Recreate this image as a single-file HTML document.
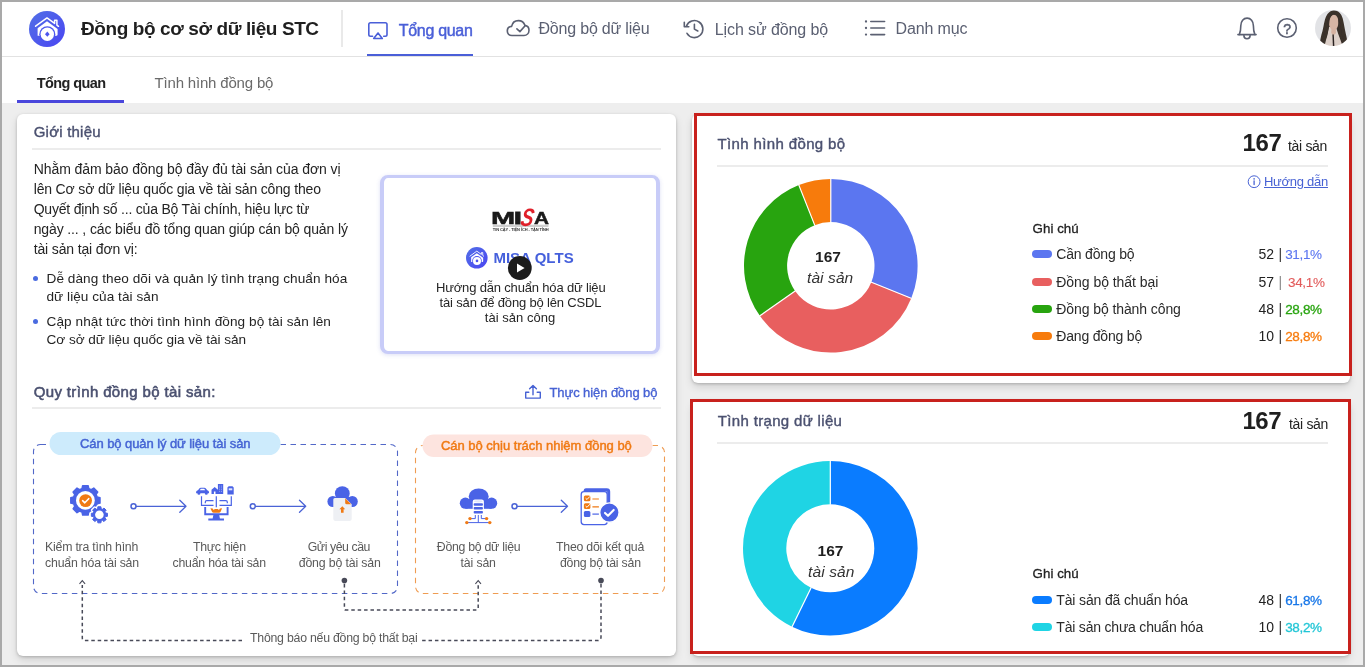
<!DOCTYPE html>
<html lang="vi">
<head>
<meta charset="utf-8">
<title>Đồng bộ cơ sở dữ liệu STC</title>
<style>
*{box-sizing:border-box;margin:0;padding:0}
html,body{width:1365px;height:667px;overflow:hidden;background:#eeeeee}
body{font-family:"Liberation Sans",sans-serif;position:relative}
#app{position:absolute;left:0;top:0;width:1365px;height:667px;overflow:hidden;background:#eeeeee}
.abs,.t,svg.i{position:absolute}
.t{white-space:nowrap;line-height:1;display:block}
.card{position:absolute;background:#fff;border-radius:6px;box-shadow:0 1px 3px rgba(0,0,0,.2),0 4px 8px rgba(0,0,0,.12)}
.hr{position:absolute;height:2px;background:#ececec}
.red{position:absolute;border:3px solid #c8211d;z-index:5}
#frame{position:absolute;left:0;top:0;width:1365px;height:667px;border:2px solid #a9a9a9;z-index:10;pointer-events:none}
ul{list-style:none}
h1,h2,h3{font:inherit}
a{text-decoration:none}
</style>
</head>
<body>
<div id="app">

<header class="abs" style="left:0;top:0;width:1365px;height:57px;background:#fff;border-bottom:1px solid #e2e2e2">
  <svg class="i" style="left:29px;top:11px" width="36" height="36" viewBox="0 0 36 36">
<defs><linearGradient id="lg" x1="0" y1="0" x2="1" y2="1"><stop offset="0" stop-color="#5270e6"/><stop offset="1" stop-color="#4a45f2"/></linearGradient></defs>
<circle cx="18" cy="18" r="18" fill="url(#lg)"/>
<path d="M6.6 15.2L18 6.9L25.6 12.4V9.3h2.3v4.8l1.6 1.2" stroke="#fff" stroke-width="1.5" fill="none" stroke-linejoin="round" stroke-linecap="round"/>
<path d="M8.6 17.2L18 10.3l10.6 7.6v5.3c0 1-.7 1.6-1.6 1.6H8.6z" fill="#fff"/>
<circle cx="18.3" cy="23.2" r="8" fill="#4b55ee"/>
<circle cx="18.3" cy="23.2" r="6.7" fill="#fff"/>
<path d="M18.3 20.6l2.3 2.6-2.3 2.6-2.3-2.6z" fill="#4b55ee"/>
</svg>
  <h1><span class="t" style="left:81.00px;top:19.00px;font-size:19px;color:#1f1f1f;font-weight:700;letter-spacing:-0.399px;">Đồng bộ cơ sở dữ liệu STC</span></h1>
  <div class="abs" style="left:341px;top:10px;width:2px;height:37px;background:#e9e9e9"></div>
  <nav>
    <svg class="i" style="left:360px;top:14px" width="540" height="30" viewBox="360 14 540 30" fill="none" >
<g stroke="#4a5fd8" stroke-width="1.6" stroke-linecap="round" stroke-linejoin="round">
<path d="M372.6 36.2h-2.1q-1.7 0-1.7-1.7v-10q0-1.7 1.7-1.7h14.8q1.7 0 1.7 1.7v10q0 1.7-1.7 1.7h-1.6"/>
<path d="M378 33l4.3 5.5h-8.6z"/>
</g>
<g stroke="#5b6072" stroke-width="1.6" stroke-linecap="round" stroke-linejoin="round">
<path d="M511.9 35.5c-3 0-4.6-2.2-4.6-4.5 0-2.5 1.9-4.4 4.3-4.6.7-3.4 3.4-5.8 6.8-5.8 3.1 0 5.6 2 6.6 4.8 2.5.4 4 2.5 4 4.9 0 2.9-2.2 5.2-5 5.2z"/>
<path d="M516.9 28.8l3 2.8 5.2-5.9"/>
<path d="M686.400 26.100A8.500 8.500 0 1 1 687 33.300"/>
<path d="M684.300 22.300v4.500h4.500"/>
<path d="M694.400 24.300v4.800l3.400 1.900"/>
<path d="M870.800 21.500h13.800M870.800 28h13.800M870.800 34.600h13.800"/>
</g>
<g fill="#5b6072"><circle cx="866" cy="21.5" r="1.15"/><circle cx="866" cy="28" r="1.15"/><circle cx="866" cy="34.6" r="1.15"/></g>
</svg>
    <a class="t" style="left:398.80px;top:23.00px;font-size:16px;color:#4a5fd8;-webkit-text-stroke:0.45px #4a5fd8;letter-spacing:-0.313px;">Tổng quan</a>
    <div class="abs" style="left:367px;top:54px;width:106px;height:2px;background:#4a5fd8"></div>
    <a class="t" style="left:538.50px;top:21.00px;font-size:16px;color:#5b6072;letter-spacing:-0.200px;">Đồng bộ dữ liệu</a>
    <a class="t" style="left:714.80px;top:22.00px;font-size:16px;color:#5b6072;letter-spacing:-0.106px;">Lịch sử đồng bộ</a>
    <a class="t" style="left:895.60px;top:21.00px;font-size:16px;color:#5b6072;letter-spacing:-0.153px;">Danh mục</a>
  </nav>
  <svg class="i" style="left:1230px;top:8px" width="125" height="42" viewBox="1230 8 125 42" fill="none" >
<defs><clipPath id="av"><circle cx="1333" cy="28" r="18"/></clipPath><filter id="avb" x="-10%" y="-10%" width="120%" height="120%"><feGaussianBlur stdDeviation=".45"/></filter></defs>
<g stroke="#5b6072" stroke-width="1.6" stroke-linecap="round" stroke-linejoin="round">
<path d="M1237.9 34.6h18.2"/>
<path d="M1239.400 34.400c1-2.400 1.400-5 1.400-8.600 0-4.400 2.700-7.700 6.300-7.700s6.300 3.300 6.300 7.700c0 3.600.4 6.200 1.400 8.600"/>
<path d="M1243.900 35.600a3.100 3.100 0 0 0 6.200 0"/>
<circle cx="1287" cy="28" r="9.300"/>
</g>
<g clip-path="url(#av)" filter="url(#avb)">
<rect x="1313" y="8" width="40" height="40" fill="#e2e3e6"/>
<path d="M1319.500 46c.5-6 1.500-10 3-15 1.500-6 2-13 5-17 2-2.600 4-3.600 6.500-3.600 3 0 5.500 1.400 7.300 4.600 2.200 4 2.600 10 3.700 15 1 5 2.500 9 2.500 16z" fill="#3a302a"/>
<path d="M1329 27c-1 5-1.500 9-3 13l-1.500 6h18l-2-6c-1.500-4-3-8-4.500-13z" fill="#ddd0c9"/>
<path d="M1328.800 22.500c0-4.500 1.900-7.700 4.900-7.700s4.700 3.200 4.700 7.700c0 4-2 7.500-4.700 7.500s-4.900-3.500-4.900-7.500z" fill="#d7b5a4"/>
<path d="M1331.500 28.500h4.200l.3 4.500-2.400 2.500-2.400-2.500z" fill="#d5b2a1"/>
<path d="M1328 25c-.4-5 .3-8.500 2-10.500 1.200-1 2.800-1.300 4.500-.8-2.800 1.300-4.600 3.300-5 7.300-.4 5-1.500 13-4.500 19.500l-4.500 4.500c1.500-6 4.100-13 7.500-20z" fill="#3a302a"/>
<path d="M1338.200 18c1.800 3 2.300 6 2.600 10 .4 5 1.700 10 4 15l-3-1c-2-5-2.800-10-3.100-14-.2-3-.2-7-.5-10z" fill="#3a302a"/>
<path d="M1332.400 34.500l.5 12h1.500l-.6-12z" fill="#2b2320"/>
</g>
</svg><span class="t" style="left:1283.20px;top:22.00px;font-size:14px;color:#5b6072;-webkit-text-stroke:0.5px #5b6072;letter-spacing:0.203px;">?</span>
</header>

<div class="abs" style="left:0;top:57px;width:1365px;height:46px;background:#fff"></div>
<div>
  <a class="t" style="left:36.80px;top:76.00px;font-size:14.5px;color:#222;font-weight:700;letter-spacing:-0.588px;">Tổng quan</a>
  <a class="t" style="left:154.50px;top:75.00px;font-size:15px;color:#6a6a6a;letter-spacing:-0.180px;">Tình hình đồng bộ</a>
  <div class="abs" style="left:17px;top:100px;width:107px;height:3px;background:#4a47dc"></div>
</div>

<main>

<section>
<div class="card" style="left:17px;top:114px;width:659px;height:542px"></div>
<h2><span class="t" style="left:33.70px;top:124.00px;font-size:15px;color:#4b5170;-webkit-text-stroke:0.4px #4b5170;letter-spacing:0.222px;">Giới thiệu</span></h2>
<div class="hr" style="left:32px;top:148px;width:629px"></div>
<p>
<span class="t" style="left:33.70px;top:162.00px;font-size:14px;color:#242424;letter-spacing:-0.076px;">Nhằm đảm bảo đồng bộ đầy đủ tài sản của đơn vị</span>
<span class="t" style="left:33.70px;top:182.00px;font-size:14px;color:#242424;letter-spacing:-0.161px;">lên Cơ sở dữ liệu quốc gia về tài sản công theo</span>
<span class="t" style="left:33.70px;top:202.00px;font-size:14px;color:#242424;letter-spacing:-0.209px;">Quyết định số ... của Bộ Tài chính, hiệu lực từ</span>
<span class="t" style="left:33.70px;top:222.00px;font-size:14px;color:#242424;letter-spacing:-0.127px;">ngày ... , các biểu đồ tổng quan giúp cán bộ quản lý</span>
<span class="t" style="left:33.70px;top:242.00px;font-size:14px;color:#242424;letter-spacing:-0.140px;">tài sản tại đơn vị:</span>
</p>
<ul>
<li><i class="abs" style="left:33px;top:276px;width:5px;height:5px;border-radius:50%;background:#4a6be0"></i>
<span class="t" style="left:46.50px;top:272.00px;font-size:13.6px;color:#242424;letter-spacing:0.063px;">Dễ dàng theo dõi và quản lý tình trạng chuẩn hóa</span>
<span class="t" style="left:46.50px;top:290.00px;font-size:13.6px;color:#242424;letter-spacing:0.046px;">dữ liệu của tài sản</span></li>
<li><i class="abs" style="left:33px;top:319px;width:5px;height:5px;border-radius:50%;background:#4a6be0"></i>
<span class="t" style="left:46.50px;top:315.00px;font-size:13.6px;color:#242424;letter-spacing:0.074px;">Cập nhật tức thời tình hình đồng bộ tài sản lên</span>
<span class="t" style="left:46.50px;top:333.00px;font-size:13.6px;color:#242424;letter-spacing:-0.037px;">Cơ sở dữ liệu quốc gia về tài sản</span></li>
</ul>

<div class="abs" style="left:380px;top:175px;width:280px;height:179px;border:4px solid #c8ccf8;border-width:3.6px 4px;border-radius:8px;background:#fff;box-shadow:0 1px 4px rgba(80,90,200,.18)"></div><svg class="i" style="left:460px;top:205px" width="120" height="80" viewBox="460 205 120 80" fill="none" >
<rect x="492.800" y="224.700" width="55.700" height="2.300" fill="#cfcfcf"/>
<defs><linearGradient id="lg2" x1="0" y1="0" x2="1" y2="1"><stop offset="0" stop-color="#5270e6"/><stop offset="1" stop-color="#4a45f2"/></linearGradient></defs>
<g transform="translate(466 247) scale(.6)">
<circle cx="18" cy="18" r="18" fill="url(#lg2)"/>
<path d="M6.600 15.200L18 6.900L25.600 12.400V9.300h2.300v4.800l1.600 1.200" stroke="#fff" stroke-width="1.500" fill="none" stroke-linejoin="round" stroke-linecap="round"/>
<path d="M8.600 17.200L18 10.300l10.600 7.600v5.300c0 1-.7 1.600-1.600 1.600H8.600z" fill="#fff"/>
<circle cx="18.300" cy="23.200" r="8" fill="#4b55ee"/>
<circle cx="18.300" cy="23.200" r="6.700" fill="#fff"/>
<circle cx="18.300" cy="23.200" r="2.200" fill="#4b55ee"/>
</g>
</svg><span class="t" style="left:490.50px;top:210.00px;font-size:17.3px;color:#1a1a1a;font-weight:700;-webkit-text-stroke:0.5px #1a1a1a;letter-spacing:-0.011px;transform:scaleX(1.68);transform-origin:0 0;">M</span><span class="t" style="left:513.60px;top:210.00px;font-size:17.3px;color:#1a1a1a;font-weight:700;-webkit-text-stroke:0.9px #1a1a1a;letter-spacing:-0.020px;transform:scaleX(1.6);transform-origin:0 0;">I</span><span class="t" style="left:519.40px;top:205.00px;font-size:25px;color:#e0202a;font-weight:700;font-style:italic;letter-spacing:-1.091px;transform:skewX(-10deg) scaleX(0.76);transform-origin:0 100%;">S</span><span class="t" style="left:533.90px;top:210.00px;font-size:17.3px;color:#1a1a1a;font-weight:700;-webkit-text-stroke:0.5px #1a1a1a;letter-spacing:0.019px;transform:scaleX(1.2);transform-origin:0 0;">A</span><span class="t" style="left:492.80px;top:228.00px;font-size:4px;color:#333;font-weight:700;letter-spacing:-0.107px;">TIN CẬY - TIỆN ÍCH - TẬN TÌNH</span><span class="t" style="left:493.40px;top:250.00px;font-size:15px;color:#4560dc;font-weight:700;letter-spacing:0.033px;">MISA QLTS</span><svg class="i" style="left:506px;top:254px" width="28" height="28" viewBox="506 254 28 28" fill="none" style="z-index:3"><circle cx="519.800" cy="268" r="11.900" fill="#1c1c1c"/><path d="M517 263.400l7.600 4.600-7.600 4.600z" fill="#fff"/></svg><span class="t" style="left:436.00px;top:281.00px;font-size:13px;color:#262626;letter-spacing:-0.171px;">Hướng dẫn chuẩn hóa dữ liệu</span><span class="t" style="left:439.60px;top:296.00px;font-size:13px;color:#262626;letter-spacing:-0.164px;">tài sản để đồng bộ lên CSDL</span><span class="t" style="left:484.80px;top:311.00px;font-size:13px;color:#262626;letter-spacing:0.024px;">tài sản công</span>

<h2><span class="t" style="left:33.70px;top:384.00px;font-size:15px;color:#4b5170;-webkit-text-stroke:0.55px #4b5170;letter-spacing:0.361px;">Quy trình đồng bộ tài sản:</span></h2>
<svg class="i" style="left:523px;top:383px" width="20" height="18" viewBox="523 383 20 18" fill="none" ><g stroke="#4762d4" stroke-width="1.400" stroke-linecap="round" stroke-linejoin="round"><path d="M528.800 392.300h-3.100v5.800h14.600v-5.800h-3.100"/><path d="M533 394.800v-9.200M529.600 388.800l3.400-3.400 3.400 3.400"/></g></svg>
<a class="t" style="left:549.50px;top:386.00px;font-size:13px;color:#4762d4;-webkit-text-stroke:0.35px #4762d4;letter-spacing:-0.075px;">Thực hiện đồng bộ</a>
<div class="hr" style="left:32px;top:407px;width:629px"></div>

<svg class="i" style="left:25px;top:425px" width="650" height="228" viewBox="25 425 650 228" fill="none" >
<rect x="33.500" y="444.500" width="364" height="149" rx="7" stroke="#5268c8" stroke-width="1.100" stroke-dasharray="5.500 4.500"/>
<rect x="415.500" y="445.500" width="249" height="148" rx="7" stroke="#ef9c52" stroke-width="1.100" stroke-dasharray="5.500 4.500"/>
<rect x="49.500" y="432" width="231" height="23" rx="11.500" fill="#cdebfc"/>
<rect x="422.500" y="434.500" width="230" height="22.500" rx="11.250" fill="#fde4df"/>

<!-- icon 1: gears -->
<path d="M97.21 496.97L100.04 497.61L100.04 503.19L97.21 503.83L96.18 506.33L97.72 508.78L93.78 512.72L91.33 511.18L88.83 512.21L88.19 515.04L82.61 515.04L81.97 512.21L79.47 511.18L77.02 512.72L73.08 508.78L74.62 506.33L73.59 503.83L70.76 503.19L70.76 497.61L73.59 496.97L74.62 494.47L73.08 492.02L77.02 488.08L79.47 489.62L81.97 488.59L82.61 485.76L88.19 485.76L88.83 488.59L91.33 489.62L93.78 488.08L97.72 492.02L96.18 494.47Z" fill="#4a63e6" stroke="#4a63e6" stroke-width="1.400" stroke-linejoin="round"/>
<circle cx="85.400" cy="500.400" r="9.400" fill="#fff"/>
<circle cx="85.600" cy="500.600" r="6.400" fill="#f07a14"/>
<path d="M82.600 500.700l2.200 2.100 3.900-4.100" stroke="#fff" stroke-width="1.600" stroke-linecap="round" stroke-linejoin="round"/>
<path d="M105.45 513.04L107.45 513.26L107.45 516.34L105.45 516.56L104.92 517.84L106.18 519.41L104.01 521.58L102.44 520.32L101.16 520.85L100.94 522.85L97.86 522.85L97.64 520.85L96.36 520.32L94.79 521.58L92.62 519.41L93.88 517.84L93.35 516.56L91.35 516.34L91.35 513.26L93.35 513.04L93.88 511.76L92.62 510.19L94.79 508.02L96.36 509.28L97.64 508.75L97.86 506.75L100.94 506.75L101.16 508.75L102.44 509.28L104.01 508.02L106.18 510.19L104.92 511.76Z" fill="#fff" stroke="#fff" stroke-width="3.400" stroke-linejoin="round"/>
<path d="M105.45 513.04L107.45 513.26L107.45 516.34L105.45 516.56L104.92 517.84L106.18 519.41L104.01 521.58L102.44 520.32L101.16 520.85L100.94 522.85L97.86 522.85L97.64 520.85L96.36 520.32L94.79 521.58L92.62 519.41L93.88 517.84L93.35 516.56L91.35 516.34L91.35 513.26L93.35 513.04L93.88 511.76L92.62 510.19L94.79 508.02L96.36 509.28L97.64 508.75L97.86 506.75L100.94 506.75L101.16 508.75L102.44 509.28L104.01 508.02L106.18 510.19L104.92 511.76Z" fill="#4a63e6" stroke="#4a63e6" stroke-width="1" stroke-linejoin="round"/>
<circle cx="99.400" cy="514.800" r="4.300" fill="#fff"/>

<path d="M133.5 506.3H186 M179.8 500.3L186 506.3L179.8 512.3" stroke="#4a63d6" stroke-width="1.300" fill="none" stroke-linecap="round" stroke-linejoin="round"/><circle cx="133.5" cy="506.3" r="2.500" fill="#fff" stroke="#4a63d6" stroke-width="1.500"/><path d="M252.8 506.3H305.7 M299.5 500.3L305.7 506.3L299.5 512.3" stroke="#4a63d6" stroke-width="1.300" fill="none" stroke-linecap="round" stroke-linejoin="round"/><circle cx="252.8" cy="506.3" r="2.500" fill="#fff" stroke="#4a63d6" stroke-width="1.500"/><path d="M514.5 506.3H567.5 M561.3 500.3L567.5 506.3L561.3 512.3" stroke="#4a63d6" stroke-width="1.300" fill="none" stroke-linecap="round" stroke-linejoin="round"/><circle cx="514.5" cy="506.3" r="2.500" fill="#fff" stroke="#4a63d6" stroke-width="1.500"/>

<!-- icon 2: monitor with assets -->
<g fill="#4a63e6">
<path d="M196.100 492.400c0-1.200.8-1.900 1.900-2.100l1.300-1.800c.4-.6.900-.8 1.600-.8h3.400c.7 0 1.200.2 1.600.8l1.300 1.800c1.100.2 1.800.9 1.800 2.100v.8h-1.200a1.500 1.500 0 0 1-3 0h-4.400a1.500 1.500 0 0 1-3 0h-1.300z"/>
<path d="M211.500 494.100v-4.400l3.200-2.800 3.200 2.800v4.400zM217.900 484h5.300v10.100h-5.300z"/>
<path d="M227.400 487.500l1.300-1.300h3.800l1.200 1.300v6.900h-6.300z"/>
<path d="M208.300 518.600h15.700v1.900h-15.700zM213.400 515h5.800l.8 3.700h-7.400z"/>
</g>
<path d="M199.800 490.300l1-1.500h3.400l1 1.500z" fill="#fff"/>
<path d="M213.900 494.100v-2.600h1.600v2.600z" fill="#fff"/>
<path d="M219.600 485.600v7M221.500 485.600v7" stroke="#9fb0f5" stroke-width=".8" stroke-dasharray="1 .8"/>
<path d="M228.700 488.300h3.600v2h-3.600z" fill="#dfe5fb"/>
<g stroke="#4a63e6" stroke-width="1.200" fill="none">
<path d="M201.500 496.300v9h12M231.300 496.300v9h-11.800M216.300 496.300v11"/>
<path d="M205.300 503.300v-1.300q0-1.400 1.400-1.400h6.800M227.300 503.300v-1.300q0-1.400-1.400-1.400h-6.400"/>
<path d="M205.200 507v7.300h22.400v-7.300" stroke-width="1.900"/>
</g>
<path d="M210.400 508.200l2.300.4.900 1.300 1.300-.9h2.800l1.300.9.900-1.300 2.200-.4-1.500 3.600q-.5 1-1.600 1h-5.400q-1.100 0-1.600-1z" fill="#f07a14"/>

<!-- icon 3: cloud upload -->
<g fill="#4a63e6"><circle cx="342.300" cy="493.600" r="7.400"/><circle cx="332.900" cy="501.500" r="5.500"/><circle cx="352.300" cy="501.500" r="5.500"/><rect x="332.900" y="497" width="19.400" height="10"/></g>
<path d="M334.800 497.900h10.400l6.500 6.400v14.800q0 1.800-1.800 1.800h-14.800q-1.800 0-1.800-1.800v-19.700q0-1.500 1.500-1.500z" fill="#eef0f4"/>
<path d="M345.200 498.300l6 6h-4.400q-1.600 0-1.600-1.600z" fill="#f07a14"/>
<path d="M342.300 506.300l2.900 3h-1.600v3.400h-2.600v-3.400h-1.600z" fill="#f07a14"/>

<!-- icon 4: cloud database -->
<g fill="#4a63e6"><ellipse cx="478.700" cy="496.400" rx="10" ry="7.900"/><circle cx="465.400" cy="503.200" r="5.600"/><circle cx="491.600" cy="503.200" r="5.600"/><rect x="465.400" y="499" width="26.200" height="9.800"/></g>
<rect x="472.700" y="499.600" width="11.200" height="15.600" rx="2.200" fill="#fff"/>
<g fill="#4a63e6">
<rect x="473.700" y="503.200" width="9.200" height="2.500" rx=".8"/>
<rect x="473.700" y="507.100" width="9.200" height="2.500" rx=".8"/>
<rect x="473.700" y="511" width="9.200" height="2.500" rx=".8"/>
</g>
<ellipse cx="478.300" cy="501.300" rx="4.300" ry="1.100" fill="#dfe5fb"/>
<g stroke="#4a63e6" stroke-width="1" fill="none">
<path d="M478.300 515v7.600M475.300 515v3.600h-5M481.300 515v3.600h5M467.500 522.600h21.600"/>
</g>
<g fill="#f07a14"><circle cx="470" cy="518.600" r="1.700"/><circle cx="466.800" cy="522.600" r="1.700"/><circle cx="486.600" cy="518.600" r="1.700"/><circle cx="489.800" cy="522.600" r="1.700"/></g>

<!-- icon 5: checklist -->
<path d="M586 488.200h20.800q3.400 0 3.400 3.400v26h-3v-26h-23.800q.4-3.400 2.600-3.400z" fill="#4a63e6"/>
<rect x="581.200" y="491.600" width="26" height="33" rx="2.800" fill="#fff" stroke="#4a63e6" stroke-width="1.300"/>
<rect x="583.900" y="495.500" width="6.500" height="5.800" rx="1.500" fill="#f07a14"/>
<rect x="583.900" y="503.300" width="6.500" height="5.800" rx="1.500" fill="#f07a14"/>
<rect x="583.900" y="511.100" width="6.500" height="5.800" rx="1.500" fill="#4a63e6"/>
<path d="M585.600 498.200l1.400 1.300 2.900-3.100M585.600 506l1.400 1.300 2.900-3.100" stroke="#fff" stroke-width="1" fill="none"/>
<path d="M592.400 499h6.500M592.400 506.900h6.500" stroke="#f07a14" stroke-width="1.200"/>
<path d="M592.400 514.100h6.500" stroke="#4a63e6" stroke-width="1.200"/>
<circle cx="609.400" cy="512.600" r="9.700" fill="#4a63e6" stroke="#fff" stroke-width="1.400"/>
<path d="M605 512.900l3 2.900 5.700-5.900" stroke="#fff" stroke-width="2.100" stroke-linecap="round" stroke-linejoin="round"/>

<!-- dotted connectors -->
<g stroke="#484a58" stroke-width="1.500" stroke-dasharray="3.500 2.900" fill="none">
<path d="M344.400 584v24.500q0 1.500 1.500 1.500h130.800q1.500 0 1.500-1.500v-23.500"/>
<path d="M601 584v53q0 3.500-3.500 3.500h-175.500"/>
<path d="M242 640.500h-157.200q-2.500 0-2.500-2.500v-53"/>
</g>
<circle cx="344.400" cy="580.600" r="2.800" fill="#484a58"/>
<circle cx="601" cy="580.600" r="2.800" fill="#484a58"/>
<path d="M79.500 583.800l2.800-3.200 2.800 3.200M475.400 583.800l2.800-3.200 2.800 3.200" stroke="#484a58" stroke-width="1.100" fill="none"/>
</svg><span class="t" style="left:80.00px;top:437.00px;font-size:13px;color:#4564d4;-webkit-text-stroke:0.45px #4564d4;letter-spacing:-0.076px;">Cán bộ quản lý dữ liệu tài sản</span><span class="t" style="left:441.00px;top:439.00px;font-size:13px;color:#f07a14;-webkit-text-stroke:0.45px #f07a14;letter-spacing:-0.023px;">Cán bộ chịu trách nhiệm đồng bộ</span><span class="t" style="left:45.10px;top:541.00px;font-size:12.3px;color:#5a5a5a;letter-spacing:-0.226px;">Kiểm tra tình hình</span><span class="t" style="left:45.10px;top:557.00px;font-size:12.3px;color:#5a5a5a;letter-spacing:-0.194px;">chuẩn hóa tài sản</span><span class="t" style="left:193.00px;top:541.00px;font-size:12.3px;color:#5a5a5a;letter-spacing:-0.301px;">Thực hiện</span><span class="t" style="left:172.60px;top:557.00px;font-size:12.3px;color:#5a5a5a;letter-spacing:-0.229px;">chuẩn hóa tài sản</span><span class="t" style="left:307.70px;top:541.00px;font-size:12.3px;color:#5a5a5a;letter-spacing:-0.429px;">Gửi yêu cầu</span><span class="t" style="left:298.70px;top:557.00px;font-size:12.3px;color:#5a5a5a;letter-spacing:-0.141px;">đồng bộ tài sản</span><span class="t" style="left:436.80px;top:541.00px;font-size:12.3px;color:#5a5a5a;letter-spacing:-0.270px;">Đồng bộ dữ liệu</span><span class="t" style="left:460.60px;top:557.00px;font-size:12.3px;color:#5a5a5a;letter-spacing:-0.148px;">tài sản</span><span class="t" style="left:556.00px;top:541.00px;font-size:12.3px;color:#5a5a5a;letter-spacing:-0.226px;">Theo dõi kết quả</span><span class="t" style="left:559.90px;top:557.00px;font-size:12.3px;color:#5a5a5a;letter-spacing:-0.214px;">đồng bộ tài sản</span><span class="t" style="left:250.00px;top:632.00px;font-size:12.3px;color:#5a5a5a;letter-spacing:-0.229px;">Thông báo nếu đồng bộ thất bại</span>
</section>

<section>
<div class="card" style="left:692px;top:114px;width:658px;height:269px"></div>
<div class="red" style="left:694px;top:113px;width:658px;height:263px"></div>
<h2><span class="t" style="left:717.50px;top:136.00px;font-size:15px;color:#4b5170;-webkit-text-stroke:0.4px #4b5170;letter-spacing:0.367px;">Tình hình đồng bộ</span></h2>
<span class="t" style="left:1242.50px;top:131.00px;font-size:24px;color:#1f1f1f;font-weight:700;letter-spacing:-0.349px;">167</span><span class="t" style="left:1288.00px;top:139.00px;font-size:14px;color:#222;letter-spacing:-0.321px;">tài sản</span>
<div class="hr" style="left:717px;top:165px;width:611px"></div>
<svg class="i" style="left:1246px;top:174px" width="16" height="16" viewBox="1246 174 16 16" fill="none" ><circle cx="1254.1" cy="181.700" r="5.900" stroke="#4762d4" stroke-width="1"/><path d="M1254.1 180.800v3.800" stroke="#4762d4" stroke-width="1.300" stroke-linecap="round"/><circle cx="1254.1" cy="178.900" r=".8" fill="#4762d4"/></svg>
<a class="t" style="left:1264.00px;top:175.00px;font-size:13px;color:#4762d4;letter-spacing:-0.266px;text-decoration:underline;">Hướng dẫn</a>
<svg class="i" style="left:741.8px;top:177px" width="177.6" height="177.6" viewBox="741.8 177 177.6 177.6"><path d="M830.60 179.00A86.8 86.8 0 0 1 911.08 298.32L871.12 282.17A43.7 43.7 0 0 0 830.60 222.10Z" fill="#5b76f0"/><path d="M911.08 298.32A86.8 86.8 0 0 1 759.67 315.83L794.89 290.99A43.7 43.7 0 0 0 871.12 282.17Z" fill="#e85f5f"/><path d="M759.67 315.83A86.8 86.8 0 0 1 798.65 185.10L814.51 225.17A43.7 43.7 0 0 0 794.89 290.99Z" fill="#28a40f"/><path d="M798.65 185.10A86.8 86.8 0 0 1 830.60 179.00L830.60 222.10A43.7 43.7 0 0 0 814.51 225.17Z" fill="#f77b0c"/><path d="M830.60 178.50L830.60 222.60" stroke="#fff" stroke-width="1.2"/><path d="M911.54 298.50L870.65 281.98" stroke="#fff" stroke-width="1.2"/><path d="M759.26 316.12L795.30 290.70" stroke="#fff" stroke-width="1.2"/><path d="M798.46 184.63L814.70 225.63" stroke="#fff" stroke-width="1.2"/></svg>
<span class="t" style="left:815.00px;top:249.00px;font-size:15.5px;color:#1f1f1f;font-weight:700;letter-spacing:0.042px;">167</span><span class="t" style="left:807.00px;top:270.00px;font-size:15.5px;color:#333;font-style:italic;letter-spacing:0.090px;">tài sản</span>
<h3><span class="t" style="left:1032.60px;top:222.00px;font-size:13.3px;color:#222;-webkit-text-stroke:0.3px #222;letter-spacing:0.039px;">Ghi chú</span></h3>
<ul>
<li><i class="abs" style="left:1032px;top:250px;width:20px;height:8px;border-radius:4px;background:#5b76f0"></i><span class="t" style="left:1056.30px;top:247.00px;font-size:14px;color:#2a2a2a;letter-spacing:-0.190px;">Cần đồng bộ</span><span class="t" style="left:1258.60px;top:247.00px;font-size:14px;color:#222;letter-spacing:-0.139px;">52</span><span class="t" style="left:1278.60px;top:247.00px;font-size:14px;color:#333;letter-spacing:-0.641px;">|</span><span class="t" style="left:1285.20px;top:248.00px;font-size:13.5px;color:#5b76f0;-webkit-text-stroke:0.1px #5b76f0;letter-spacing:-0.356px;">31,1%</span></li>
<li><i class="abs" style="left:1032px;top:278px;width:20px;height:8px;border-radius:4px;background:#e85f5f"></i><span class="t" style="left:1056.30px;top:275.00px;font-size:14px;color:#2a2a2a;letter-spacing:-0.047px;">Đồng bộ thất bại</span><span class="t" style="left:1258.60px;top:275.00px;font-size:14px;color:#222;letter-spacing:-0.139px;">57</span><span class="t" style="left:1278.60px;top:275.00px;font-size:14px;color:#888;letter-spacing:-0.641px;">|</span><span class="t" style="left:1288.00px;top:276.00px;font-size:13.5px;color:#e25b5b;-webkit-text-stroke:0.1px #e25b5b;letter-spacing:-0.336px;">34,1%</span></li>
<li><i class="abs" style="left:1032px;top:305px;width:20px;height:8px;border-radius:4px;background:#28a40f"></i><span class="t" style="left:1056.30px;top:302.00px;font-size:14px;color:#2a2a2a;letter-spacing:-0.089px;">Đồng bộ thành công</span><span class="t" style="left:1258.60px;top:302.00px;font-size:14px;color:#222;letter-spacing:-0.139px;">48</span><span class="t" style="left:1278.60px;top:302.00px;font-size:14px;color:#333;letter-spacing:-0.641px;">|</span><span class="t" style="left:1285.20px;top:303.00px;font-size:13.5px;color:#28a40f;-webkit-text-stroke:0.3px #28a40f;letter-spacing:-0.356px;">28,8%</span></li>
<li><i class="abs" style="left:1032px;top:332px;width:20px;height:8px;border-radius:4px;background:#f77b0c"></i><span class="t" style="left:1056.30px;top:329.00px;font-size:14px;color:#2a2a2a;letter-spacing:-0.189px;">Đang đồng bộ</span><span class="t" style="left:1258.60px;top:329.00px;font-size:14px;color:#222;letter-spacing:-0.139px;">10</span><span class="t" style="left:1278.60px;top:329.00px;font-size:14px;color:#333;letter-spacing:-0.641px;">|</span><span class="t" style="left:1285.20px;top:330.00px;font-size:13.5px;color:#f77b0c;-webkit-text-stroke:0.3px #f77b0c;letter-spacing:-0.356px;">28,8%</span></li>

</ul>
</section>

<section>
<div class="card" style="left:692px;top:400px;width:658px;height:256px"></div>
<div class="red" style="left:690px;top:399px;width:661px;height:255px"></div>
<h2><span class="t" style="left:717.80px;top:413.00px;font-size:15px;color:#4b5170;-webkit-text-stroke:0.4px #4b5170;letter-spacing:0.336px;">Tình trạng dữ liệu</span></h2>
<span class="t" style="left:1242.50px;top:409.00px;font-size:24px;color:#1f1f1f;font-weight:700;letter-spacing:-0.516px;">167</span><span class="t" style="left:1289.00px;top:417.00px;font-size:14px;color:#222;letter-spacing:-0.321px;">tài sản</span>
<div class="hr" style="left:717px;top:442px;width:611px"></div>
<svg class="i" style="left:741.2px;top:458.5px" width="178.6" height="178.6" viewBox="741.2 458.5 178.6 178.6"><path d="M830.50 460.50A87.3 87.3 0 1 1 792.23 626.26L811.21 587.35A44 44 0 1 0 830.50 503.80Z" fill="#0a7cff"/><path d="M792.23 626.26A87.3 87.3 0 0 1 830.50 460.50L830.50 503.80A44 44 0 0 0 811.21 587.35Z" fill="#1fd4e4"/><path d="M830.50 460.00L830.50 504.30" stroke="#fff" stroke-width="1.2"/><path d="M792.01 626.71L811.43 586.90" stroke="#fff" stroke-width="1.2"/></svg>
<span class="t" style="left:817.50px;top:543.00px;font-size:15.5px;color:#1f1f1f;font-weight:700;letter-spacing:0.042px;">167</span><span class="t" style="left:808.00px;top:564.00px;font-size:15.5px;color:#333;font-style:italic;letter-spacing:0.118px;">tài sản</span>
<h3><span class="t" style="left:1032.60px;top:567.00px;font-size:13.3px;color:#222;-webkit-text-stroke:0.3px #222;letter-spacing:0.039px;">Ghi chú</span></h3>
<ul>
<li><i class="abs" style="left:1032px;top:596px;width:20px;height:8px;border-radius:4px;background:#0a7cff"></i><span class="t" style="left:1056.30px;top:593.00px;font-size:14px;color:#2a2a2a;letter-spacing:-0.148px;">Tài sản đã chuẩn hóa</span><span class="t" style="left:1258.60px;top:593.00px;font-size:14px;color:#222;letter-spacing:-0.139px;">48</span><span class="t" style="left:1278.60px;top:593.00px;font-size:14px;color:#333;letter-spacing:-0.641px;">|</span><span class="t" style="left:1285.20px;top:594.00px;font-size:13.5px;color:#1877e8;-webkit-text-stroke:0.3px #1877e8;letter-spacing:-0.356px;">61,8%</span></li>
<li><i class="abs" style="left:1032px;top:623px;width:20px;height:8px;border-radius:4px;background:#1fd4e4"></i><span class="t" style="left:1056.30px;top:620.00px;font-size:14px;color:#2a2a2a;letter-spacing:-0.197px;">Tài sản chưa chuẩn hóa</span><span class="t" style="left:1258.60px;top:620.00px;font-size:14px;color:#222;letter-spacing:-0.139px;">10</span><span class="t" style="left:1278.60px;top:620.00px;font-size:14px;color:#333;letter-spacing:-0.641px;">|</span><span class="t" style="left:1285.20px;top:621.00px;font-size:13.5px;color:#22c6d6;-webkit-text-stroke:0.3px #22c6d6;letter-spacing:-0.356px;">38,2%</span></li>

</ul>
</section>

</main>
<div id="frame"></div>
</div>
</body>
</html>
